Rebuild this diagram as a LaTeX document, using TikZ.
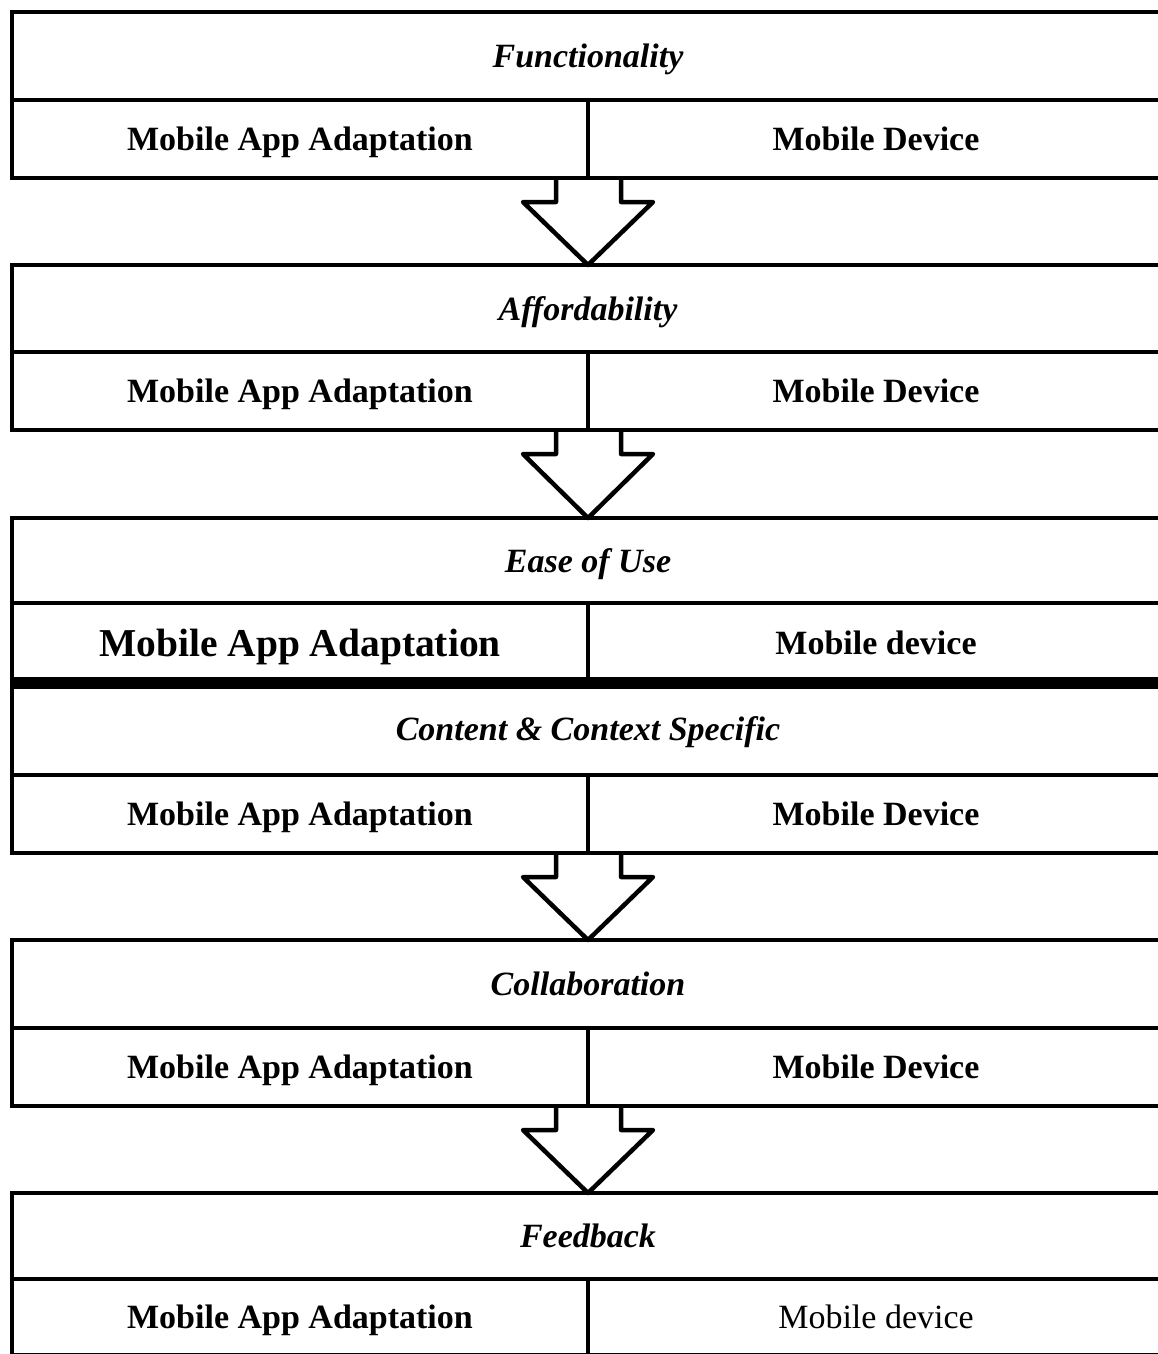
\documentclass[tikz,border=0pt]{standalone}
\usepackage{fontspec}
\setmainfont{Liberation Serif}
\usetikzlibrary{calc}

\tikzset{
  frame/.style={draw=black, line width=4.5pt, inner sep=0pt, outer sep=0pt,
    text height=23pt, text depth=0pt,
    font=\fontsize{34}{40}\selectfont},
  titlebox/.style={frame, minimum width=1152pt, font=\fontsize{34}{40}\selectfont\bfseries\itshape},
  cellbox/.style={frame, minimum width=576pt},
  boldcell/.style={cellbox, font=\fontsize{34}{40}\selectfont\bfseries},
  bigcell/.style={cellbox, text height=26.5pt, font=\fontsize{39.5}{46}\selectfont\bfseries},
  plaincell/.style={cellbox, font=\fontsize{34}{40}\selectfont},
  flowarrow/.style={draw=black, line width=4.5pt, line join=round},
  seam/.style={line width=12pt, line cap=butt}
}

% title row of a block
% #1 index, #2 top, #3 middle, #4 title
\newcommand{\qblock}[4]{%
  \node[titlebox, minimum height={#3-#2}] (t#1) at (588,{(#2+#3)/2}) {#4};
}

\begin{document}
\begin{tikzpicture}[x=1pt, y=-1pt]
\useasboundingbox (0,0) rectangle (1158,1354);

% block 1
\qblock{1}{12}{100}{Functionality}
\node[boldcell, minimum height=78pt] (l1) at (300,139) {Mobile App Adaptation};
\node[boldcell, minimum height=78pt] (r1) at (876,139) {Mobile Device};

% block 2
\qblock{2}{265}{352}{Affordability}
\node[boldcell, minimum height=78pt] (l2) at (300,391) {Mobile App Adaptation};
\node[boldcell, minimum height=78pt] (r2) at (876,391) {Mobile Device};

% block 3
\qblock{3}{518}{603}{Ease of Use}
\node[bigcell, minimum height=80pt] (l3) at (300,643) {Mobile App Adaptation};
\node[boldcell, minimum height=80pt] (r3) at (876,643) {Mobile device};

% block 4, sitting directly under block 3
\qblock{4}{683}{775}{Content \& Context Specific}
\node[boldcell, minimum height=78pt] (l4) at (300,814) {Mobile App Adaptation};
\node[boldcell, minimum height=78pt] (r4) at (876,814) {Mobile Device};
\draw[seam] (l3.south west) -- (r3.south east);

% block 5
\qblock{5}{940}{1028}{Collaboration}
\node[boldcell, minimum height=78pt] (l5) at (300,1067) {Mobile App Adaptation};
\node[boldcell, minimum height=78pt] (r5) at (876,1067) {Mobile Device};

% block 6
\qblock{6}{1193}{1279}{Feedback}
\node[boldcell, minimum height=76pt] (l6) at (300,1317) {Mobile App Adaptation};
\node[plaincell, minimum height=76pt] (r6) at (876,1317) {Mobile device};

% hollow arrows between blocks
\foreach \a/\b in {1/2, 2/3, 4/5, 5/6}{
  \draw[flowarrow]
    ($(l\a.south east)+(-32,0)$) -- ++(0,24) -- ++(-33,0)
    -- (t\b.north)
    -- ($(l\a.south east)+(65,24)$) -- ++(-32,0) -- ++(0,-24);
}
\end{tikzpicture}
\end{document}
